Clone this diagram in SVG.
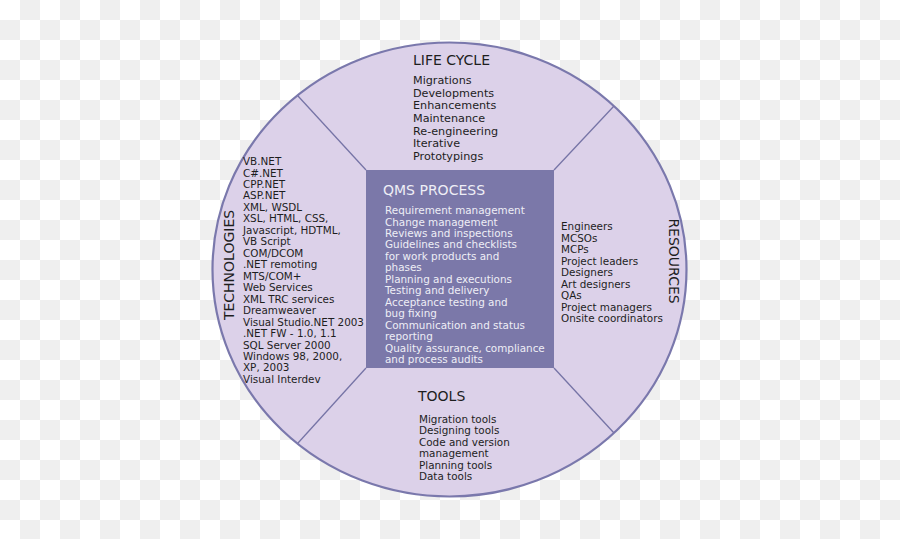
<svg xmlns="http://www.w3.org/2000/svg" width="900" height="539" viewBox="0 0 900 539">
<defs>
<pattern id="checker" width="40" height="40" patternUnits="userSpaceOnUse">
<rect width="40" height="40" fill="#ffffff"/>
<rect x="20" y="0" width="20" height="20" fill="#efefef"/>
<rect x="0" y="20" width="20" height="20" fill="#efefef"/>
</pattern>
<style>
text{font-family:"DejaVu Sans","Liberation Sans",sans-serif;fill:#1e1e1e}
.h{font-size:14px}
.i{font-size:10.4px}
.l{font-size:11.2px}
.w{fill:#eeeef6}
.div{stroke:#7674a6;stroke-width:1.3;fill:none}
</style>
</defs>
<rect width="900" height="539" fill="url(#checker)"/>
<g id="circle">
<ellipse cx="449.5" cy="269.5" rx="237" ry="227" fill="#dcd1e9" stroke="#7a78ac" stroke-width="2.2"/>
</g>
<g id="connectors">
<line class="div" x1="298" y1="96" x2="366" y2="170"/>
<line class="div" x1="614" y1="106" x2="554" y2="170"/>
<line class="div" x1="366" y1="368" x2="298" y2="443"/>
<line class="div" x1="554" y1="368" x2="614" y2="433"/>
</g>
<g id="lifecycle">
<text class="h" x="413" y="65">LIFE CYCLE</text>
<text class="l" x="413" y="84">Migrations</text>
<text class="l" x="413" y="97">Developments</text>
<text class="l" x="413" y="109">Enhancements</text>
<text class="l" x="413" y="122">Maintenance</text>
<text class="l" x="413" y="135">Re-engineering</text>
<text class="l" x="413" y="147">Iterative</text>
<text class="l" x="413" y="160">Prototypings</text>
</g>
<g id="qms">
<rect x="366" y="170" width="188" height="198" fill="#7b78a9"/>
<text class="h w" x="383" y="195">QMS PROCESS</text>
<text class="i w" x="385" y="214">Requirement management</text>
<text class="i w" x="385" y="225.5">Change management</text>
<text class="i w" x="385" y="237">Reviews and inspections</text>
<text class="i w" x="385" y="248.4">Guidelines and checklists</text>
<text class="i w" x="385" y="259.8">for work products and</text>
<text class="i w" x="385" y="271.3">phases</text>
<text class="i w" x="385" y="282.8">Planning and executions</text>
<text class="i w" x="385" y="294.2">Testing and delivery</text>
<text class="i w" x="385" y="305.7">Acceptance testing and</text>
<text class="i w" x="385" y="317.1">bug fixing</text>
<text class="i w" x="385" y="328.6">Communication and status</text>
<text class="i w" x="385" y="340">reporting</text>
<text class="i w" x="385" y="351.5">Quality assurance, compliance</text>
<text class="i w" x="385" y="363">and process audits</text>
</g>
<g id="technologies">
<text class="h" transform="translate(234 265) rotate(-90)" text-anchor="middle">TECHNOLOGIES</text>
<text class="i" x="243" y="165">VB.NET</text>
<text class="i" x="243" y="176.5">C#.NET</text>
<text class="i" x="243" y="188">CPP.NET</text>
<text class="i" x="243" y="199.4">ASP.NET</text>
<text class="i" x="243" y="210.9">XML, WSDL</text>
<text class="i" x="243" y="222.4">XSL, HTML, CSS,</text>
<text class="i" x="243" y="233.8">Javascript, HDTML,</text>
<text class="i" x="243" y="245.3">VB Script</text>
<text class="i" x="243" y="256.8">COM/DCOM</text>
<text class="i" x="243" y="268.2">.NET remoting</text>
<text class="i" x="243" y="279.7">MTS/COM+</text>
<text class="i" x="243" y="291.2">Web Services</text>
<text class="i" x="243" y="302.6">XML TRC services</text>
<text class="i" x="243" y="314.1">Dreamweaver</text>
<text class="i" x="243" y="325.6">Visual Studio.NET 2003</text>
<text class="i" x="243" y="337">.NET FW - 1.0, 1.1</text>
<text class="i" x="243" y="348.5">SQL Server 2000</text>
<text class="i" x="243" y="360">Windows 98, 2000,</text>
<text class="i" x="243" y="371.4">XP, 2003</text>
<text class="i" x="243" y="383">Visual Interdev</text>
</g>
<g id="resources">
<text class="h" transform="translate(669 261) rotate(90)" text-anchor="middle">RESOURCES</text>
<text class="i" x="561" y="230">Engineers</text>
<text class="i" x="561" y="241.5">MCSOs</text>
<text class="i" x="561" y="253">MCPs</text>
<text class="i" x="561" y="264.5">Project leaders</text>
<text class="i" x="561" y="276">Designers</text>
<text class="i" x="561" y="287.5">Art designers</text>
<text class="i" x="561" y="299">QAs</text>
<text class="i" x="561" y="310.5">Project managers</text>
<text class="i" x="561" y="322">Onsite coordinators</text>
</g>
<g id="tools">
<text class="h" x="418" y="401">TOOLS</text>
<text class="i" x="419" y="423">Migration tools</text>
<text class="i" x="419" y="434.4">Designing tools</text>
<text class="i" x="419" y="445.8">Code and version</text>
<text class="i" x="419" y="457.2">management</text>
<text class="i" x="419" y="468.6">Planning tools</text>
<text class="i" x="419" y="480">Data tools</text>
</g>
</svg>
